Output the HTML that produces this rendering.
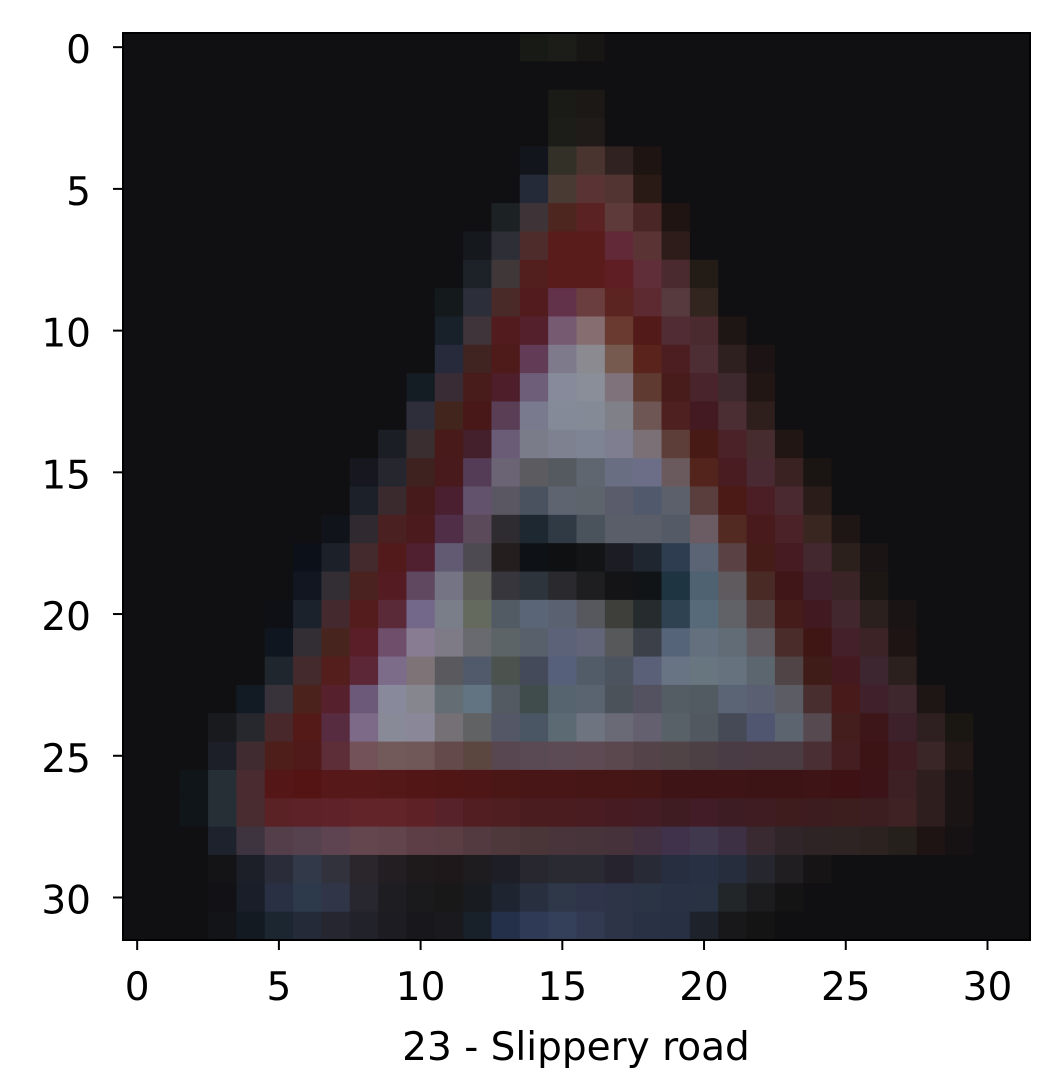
<!DOCTYPE html>
<html><head><meta charset="utf-8"><style>
html,body{margin:0;padding:0;background:#fff;width:1064px;height:1092px;overflow:hidden}
svg text{font-family:"DejaVu Sans","Liberation Sans",sans-serif;fill:#000}
</style></head><body>
<svg id="chart" width="1064" height="1092" xmlns="http://www.w3.org/2000/svg">
<g id="cells"></g>
<rect x="123" y="33" width="907" height="907" fill="none" stroke="#000" stroke-width="2"/>
<g id="xticks"></g>
<g id="yticks"></g>
<text x="576" y="1060" font-size="39" text-anchor="middle">23 - Slippery road</text>
</svg>
<script>
const bgColor = "#101012";
const xTickValues = [0,5,10,15,20,25,30];
const yTickValues = [0,5,10,15,20,25,30];
const rowStart = [14,0,15,15,14,14,13,12,12,11,11,11,10,10,9,8,8,7,6,6,5,5,5,4,3,3,2,2,3,3,3,3];
const rowPixels = [
["#181a16","#1c1c18","#181614"],
[],
["#1a1a16","#1c1816"],
["#1c1c18","#201a18"],
["#12161c","#333028","#4a3430","#302220","#1e1412"],
["#252a38","#4a3a34","#5a3434","#523432","#2a1a16"],
["#1c2224","#3e3438","#4e2620","#5a2222","#5e3a3a","#4a2626","#201412"],
["#15181c","#2e2e36","#4e2c2c","#5a1c1a","#5a1c1a","#622a38","#5a3434","#2e1c1a"],
["#1c2228","#403838","#521e1e","#5a1c1a","#5a1c1a","#5e1e24","#602e38","#4a2a2e","#231c16"],
["#141a1c","#2c2e3a","#4a2a28","#521c1e","#62324a","#6a3e3e","#5c2420","#5c2a30","#563a3e","#32241e"],
["#18202a","#3e343a","#521c1e","#54202c","#765a72","#866e70","#6a3a30","#521a18","#522c34","#4a2a2e","#1e1614"],
["#262a3a","#402422","#4e1a1a","#623c56","#7e7a8c","#8a8a90","#765a50","#5a241c","#4c1e22","#4c2e34","#2e201e","#1c1414"],
["#141c24","#3a2c34","#481c1a","#4e1e2a","#6e5e7a","#868a9a","#8a8e98","#80727a","#5e3a30","#481c1a","#4a242c","#3e2a2e","#221614"],
["#2e2e3a","#42261e","#481818","#5a3e56","#7a7a8e","#848a98","#858b96","#808088","#6e5654","#4e2020","#441a22","#4a2e34","#2e1e1c"],
["#1c1e26","#3a2e30","#481a1a","#44202c","#6a5c76","#7a7c8a","#7e8290","#7e8494","#7e7e90","#7a7076","#5e3e38","#481a16","#4a2228","#462c2e","#221614"],
["#16171f","#26262e","#3e2220","#481a1c","#543c56","#6a6474","#5c5c60","#545a60","#606670","#6a6e82","#6c6e88","#6a5a5e","#52241c","#481c20","#4a2a32","#3a2222","#1a1412"],
["#1c2028","#3a2a2e","#461a1a","#4a2030","#62526c","#5a5662","#4a5260","#5e6470","#5e646c","#5a5c6c","#505a6c","#5c606a","#5a3e3e","#4c1a16","#4a1e24","#4a2a30","#2a1c18"],
["#10141a","#302a30","#4a2020","#4a1a1c","#502e48","#5a4a5a","#2e2c30","#1e2830","#303a44","#4a525c","#5a5e68","#5a5e68","#545a66","#6a5c62","#522a22","#481a1c","#4a2228","#3a2620","#1e1614"],
["#0c1018","#1c2028","#442a2c","#521a1a","#502030","#625a72","#4e4a52","#241e1e","#0e1216","#0e1012","#121416","#1c1c24","#202630","#2e3e50","#5a6474","#5a4244","#461c18","#461c22","#442830","#2c201c","#1a1414"],
["#121620","#322e34","#4a2220","#541c22","#604860","#747484","#5e5e5a","#36363c","#2e343c","#2a2a2e","#1e1e20","#141416","#101416","#1e3440","#4e6272","#5e5a5e","#4a2a24","#401618","#40202a","#3a2426","#1c1614"],
["#0e1016","#1c222c","#442a2e","#541c1c","#5a2a38","#74688a","#7a7e88","#646a5e","#525a64","#5a6678","#5a6272","#56585e","#3e3e3a","#262c2e","#2e4252","#566a7a","#606268","#524040","#461c1a","#401a20","#42282e","#2c201e","#1a1414"],
["#101620","#322e34","#48241e","#5a1e28","#6e4e6a","#887c92","#7e7a86","#686a70","#5c6468","#58606c","#5c6278","#626478","#56585a","#3c4048","#56647a","#64707e","#626c76","#5e5a60","#4a2c2a","#401614","#44202a","#3c2426","#1e1414"],
["#20262e","#442a2c","#541e1c","#5c2838","#7c6c8a","#7e7478","#5a5a5e","#505a6a","#4c524e","#444a5a","#56607a","#525c68","#4c5460","#5a6078","#687484","#687680","#66727e","#5c666e","#504446","#401c18","#441a20","#3e2630","#2c201e"],
["#121a24","#38323a","#4c221c","#56202c","#6c5878","#888a9c","#86868e","#646c74","#627482","#545a62","#404c4c","#566470","#5a6470","#4c525a","#545260","#545c64","#525a62","#5a6474","#5a6072","#5c5c64","#482e2e","#481a1a","#40202a","#3e282e","#1e1614"],
["#181a1e","#26282e","#48282a","#541a18","#582c40","#7c6a88","#888a98","#8a8898","#747076","#606264","#545866","#4a5664","#5c6a74","#6e7480","#6a6a76","#646070","#586068","#525860","#464a56","#505670","#5c6470","#564a50","#441e1c","#3c1618","#3c202a","#2e2020","#1a1612"],
["#1c1e28","#402c30","#4e1e1a","#501a1a","#5e2e38","#74525a","#725a5a","#705858","#644a4a","#5c4640","#584650","#5a4a54","#5c4a54","#5e4a52","#5a484e","#54444a","#504446","#4c4044","#4a3c44","#4a3c42","#4a3c42","#4a3034","#441e20","#3c1416","#3e1c22","#3a2626","#221816"],
["#10151a","#262e36","#4a2c30","#541616","#541414","#561818","#561818","#541818","#521616","#501616","#4e1616","#4a1616","#481616","#481616","#461616","#461616","#441616","#3e1416","#3e1416","#3e1416","#3c1416","#3c1416","#3e1416","#3e1214","#3c1418","#3c2024","#2e1e1e","#1a1414"],
["#10151a","#262e36","#482c30","#5a2224","#5c2228","#5e2228","#622428","#622428","#5e2226","#58222a","#521e22","#4e1e20","#4a1c20","#4a1c20","#481c20","#461c22","#441c24","#3e1c22","#421c26","#3e1c24","#3e1c22","#3e1c1e","#3c1c1e","#3c1e1e","#3c1e20","#3e2224","#2e1e1e","#1a1414"],
["#1e222c","#3e3440","#543e4a","#56424e","#5e4450","#64464e","#62444c","#5e3e46","#5a3e44","#523a40","#4e383c","#4a3638","#48343a","#46343a","#46323a","#423040","#40324a","#40384c","#3e3044","#382a30","#30262a","#2e2426","#2e2424","#2c2220","#26201c","#1e1414","#161214"],
["#141416","#1c1e28","#2a2c3a","#323a4a","#32323c","#2a262c","#221e22","#1e1a1c","#1e181a","#1e1c1e","#1e1e26","#28262e","#2a2a32","#2a2a32","#26222e","#282a36","#262e40","#283044","#262e3e","#26262e","#201e20","#161414"],
["#121216","#1a1e28","#2a3044","#2c3a4c","#303648","#28262e","#1e1e22","#1a1a1c","#181818","#181c20","#1e2430","#283040","#2e3848","#30344a","#2e3448","#2a3444","#283244","#283242","#222628","#1c1c1e","#141414"],
["#121418","#141a22","#1c2630","#242a38","#262630","#22222a","#1c1c22","#18181c","#1a1a1e","#18202a","#24304a","#2e3a56","#34405a","#323a52","#2e3448","#283244","#283044","#1e222a","#18181a","#141414"]
];
const NS = "http://www.w3.org/2000/svg";
const X0 = 123, Y0 = 33, SPAN = 907, N = 32;
const cw = SPAN / N;
function xs(v){ return X0 + (v + 0.5) * cw; }
function ys(v){ return Y0 + (v + 0.5) * cw; }
function colorAt(r, c){
  const s = rowStart[r], arr = rowPixels[r] || [];
  if (c >= s && c < s + arr.length) return arr[c - s];
  return bgColor;
}
const cells = document.getElementById('cells');
for (let r = 0; r < N; r++) {
  for (let c = 0; c < N; c++) {
    const rect = document.createElementNS(NS, 'rect');
    
    
    rect.setAttribute('x', (xs(c) - cw / 2).toFixed(2));
    rect.setAttribute('y', (ys(r) - cw / 2).toFixed(2));
    rect.setAttribute('width', (cw + 0.6).toFixed(2));
    rect.setAttribute('height', (cw + 0.6).toFixed(2));
    rect.setAttribute('fill', colorAt(r, c));
    cells.appendChild(rect);
  }
}
const xg = document.getElementById('xticks');
xTickValues.forEach(v => {
  const x = xs(v);
  const l = document.createElementNS(NS, 'line');
  
  
  l.setAttribute('x1', x); l.setAttribute('x2', x);
  l.setAttribute('y1', 940); l.setAttribute('y2', 950);
  l.setAttribute('stroke', '#000'); l.setAttribute('stroke-width', '2');
  xg.appendChild(l);
  const t = document.createElementNS(NS, 'text');
  
  
  t.setAttribute('x', x); t.setAttribute('y', 1000);
  t.setAttribute('font-size', '39'); t.setAttribute('text-anchor', 'middle');
  t.textContent = v;
  xg.appendChild(t);
});
const yg = document.getElementById('yticks');
yTickValues.forEach(v => {
  const y = ys(v);
  const l = document.createElementNS(NS, 'line');
  
  
  l.setAttribute('x1', 113); l.setAttribute('x2', 123);
  l.setAttribute('y1', y); l.setAttribute('y2', y);
  l.setAttribute('stroke', '#000'); l.setAttribute('stroke-width', '2');
  yg.appendChild(l);
  const t = document.createElementNS(NS, 'text');
  
  
  t.setAttribute('x', 91); t.setAttribute('y', y + 16);
  t.setAttribute('font-size', '39'); t.setAttribute('text-anchor', 'end');
  t.textContent = v;
  yg.appendChild(t);
});
</script>
</body></html>
